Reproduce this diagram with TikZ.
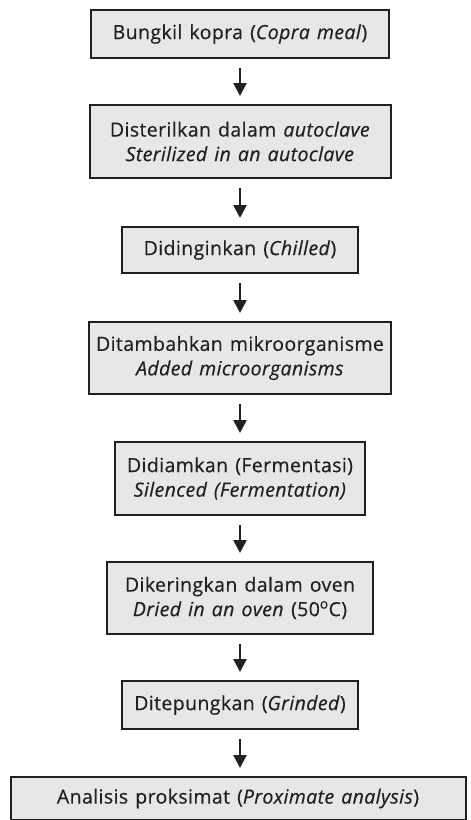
\documentclass[tikz,border=0pt]{standalone}
\usepackage{fontspec}
\setmainfont{Open Sans}[LetterSpace=2,WordSpace=1.3,FakeBold=0.4]
\usetikzlibrary{arrows.meta}
\definecolor{boxfill}{HTML}{E6E7E8}
\definecolor{ink}{HTML}{231F20}
\tikzset{
  stepbox/.style={draw=ink, fill=boxfill, line width=2pt, rectangle, inner sep=0pt,
    align=center, text=ink, font=\fontsize{19.5}{24.5}\selectfont},
  flow/.style={draw=ink, line width=2.6pt, -{Triangle[width=13pt,length=13pt]}}
}
\begin{document}
\begin{tikzpicture}[x=1pt,y=-1pt]
\useasboundingbox (0,0) rectangle (471,820);
\node[stepbox, minimum width=298pt, minimum height=48pt] (b1) at (240,34)
  {Bungkil kopra (\textit{Copra meal})};
\node[stepbox, minimum width=301pt, minimum height=73pt] (b2) at (240,141.5)
  {Disterilkan dalam \textit{autoclave}\\\textit{Sterilized in an autoclave}};
\node[stepbox, minimum width=236pt, minimum height=46pt] (b3) at (240,250)
  {Didinginkan (\textit{Chilled})};
\node[stepbox, minimum width=302pt, minimum height=72pt] (b4) at (240,358)
  {Ditambahkan mikroorganisme\\\textit{Added microorganisms}};
\node[stepbox, minimum width=250pt, minimum height=73pt] (b5) at (240,478.5)
  {Didiamkan (Fermentasi)\\\textit{Silenced (Fermentation)}};
\node[stepbox, minimum width=266pt, minimum height=72pt] (b6) at (240,598)
  {Dikeringkan dalam oven\\\textit{Dried in an oven} (50\textsuperscript{o}C)};
\node[stepbox, minimum width=236pt, minimum height=48pt] (b7) at (240,705)
  {Ditepungkan (\textit{Grinded})};
\node[stepbox, minimum width=455pt, minimum height=43pt] (b8) at (238,798.5)
  {Analisis proksimat (\textit{Proximate analysis})};
\foreach \a/\b in {b1/b2,b2/b3,b3/b4,b4/b5,b5/b6,b6/b7}
  \draw[flow] ([yshift=-9pt]\a.south) -- ([yshift=8pt]\b.north);
\draw[flow] ([yshift=-9pt]b7.south) -- ([yshift=8pt]b8.north -| b7.south);
\end{tikzpicture}
\end{document}
